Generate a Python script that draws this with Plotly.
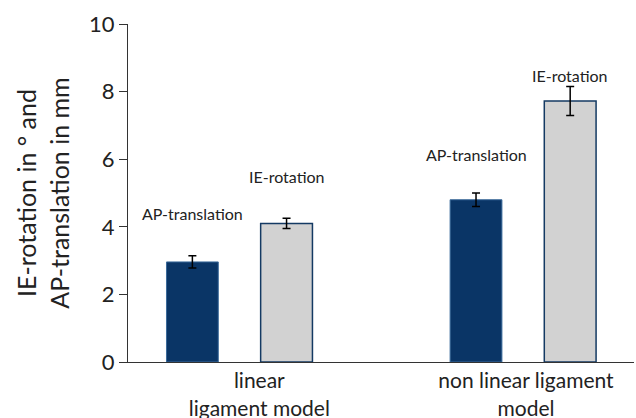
import plotly.graph_objects as go

groups = [0, 1]
group_labels = ["linear<br>ligament model", "non linear ligament<br>model"]
label_positions = [0.07, 1.01]
ap_values = [2.96, 4.80]
ap_errors = [0.18, 0.20]
ie_values = [4.10, 7.72]
ie_errors = [0.15, 0.43]
series_names = ["AP-translation", "IE-rotation"]
label_y = {"AP-translation": [4.38, 6.15], "IE-rotation": [5.5, 8.49]}

navy = "#0a3566"
gray = "#d2d2d2"
font_family = "Lato, Open Sans, sans-serif"

fig = go.Figure()
fig.add_trace(go.Bar(
    x=groups, y=ap_values, name=series_names[0],
    marker=dict(color=navy, line=dict(color="#3a6a9a", width=1)),
    error_y=dict(type="data", array=ap_errors, color="black", thickness=1.5, width=4),
))
fig.add_trace(go.Bar(
    x=groups, y=ie_values, name=series_names[1],
    marker=dict(color=gray, line=dict(color="#143a63", width=1.5)),
    error_y=dict(type="data", array=ie_errors, color="black", thickness=1.5, width=4),
))

offsets = {"AP-translation": -0.166, "IE-rotation": 0.166}
for name in series_names:
    for i, g in enumerate(groups):
        fig.add_annotation(x=g + offsets[name], y=label_y[name][i], text=name, showarrow=False,
                           font=dict(size=16, color="#222", family=font_family))

fig.update_layout(
    width=636, height=418,
    margin=dict(l=128, r=2, t=24, b=56, autoexpand=False),
    paper_bgcolor="white", plot_bgcolor="white",
    barmode="group", bargap=0.336, bargroupgap=0.45,
    showlegend=False,
    font=dict(family=font_family, color="#222"),
    xaxis=dict(
        range=[-0.393, 1.391], tickmode="array", tickvals=label_positions, ticktext=group_labels,
        showline=True, linecolor="#333", linewidth=1, showgrid=False, zeroline=False,
        ticks="", tickfont=dict(size=21), automargin=False,
    ),
    yaxis=dict(
        range=[0, 10], dtick=2, showline=True, linecolor="#333", linewidth=1,
        ticks="outside", ticklen=8, tickcolor="#333", showgrid=False, zeroline=False,
        tickfont=dict(size=22), automargin=False,
        title=dict(text="IE-rotation in ° and<br>AP-translation in mm", font=dict(size=25), standoff=12),
    ),
)

fig.write_html("out.html", config={"displayModeBar": False},
               post_script="document.body.style.margin='0';")
